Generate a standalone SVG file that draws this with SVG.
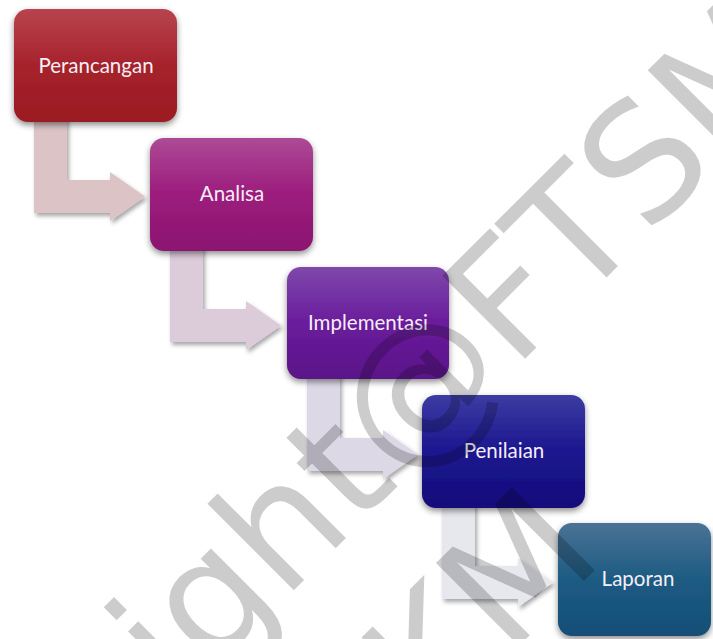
<svg xmlns="http://www.w3.org/2000/svg" xmlns:xlink="http://www.w3.org/1999/xlink" width="713" height="639" viewBox="0 0 713 639">
<defs>
<style>
.box{filter:url(#bsh);}
.lbl{font-family:Lato,"Open Sans","Liberation Sans",sans-serif;font-size:20.5px;fill:#f6eef6;text-anchor:middle;}
.arr{filter:url(#ash);}
.wm{font-family:"DejaVu Sans","Liberation Sans",sans-serif;font-size:161px;fill:#000;fill-opacity:0.2;}
</style>
<filter id="bsh" x="-20%" y="-20%" width="140%" height="150%"><feDropShadow dx="0" dy="3" stdDeviation="3" flood-color="#000" flood-opacity="0.45"/></filter>
<filter id="ash" x="-20%" y="-20%" width="140%" height="150%"><feDropShadow dx="2" dy="3" stdDeviation="2" flood-color="#000" flood-opacity="0.35"/></filter>
<linearGradient id="g1" x1="0" y1="0" x2="0" y2="1"><stop offset="0" stop-color="#b8444e"/><stop offset="0.5" stop-color="#a6222c"/><stop offset="1" stop-color="#9a1a22"/></linearGradient>
<linearGradient id="g2" x1="0" y1="0" x2="0" y2="1"><stop offset="0" stop-color="#ac4a95"/><stop offset="0.5" stop-color="#9c1c7d"/><stop offset="1" stop-color="#8b1570"/></linearGradient>
<linearGradient id="g3" x1="0" y1="0" x2="0" y2="1"><stop offset="0" stop-color="#7e48ab"/><stop offset="0.5" stop-color="#6a1c9c"/><stop offset="1" stop-color="#5a1388"/></linearGradient>
<linearGradient id="g4" x1="0" y1="0" x2="0" y2="1"><stop offset="0" stop-color="#3c3ca2"/><stop offset="0.5" stop-color="#1c1690"/><stop offset="1" stop-color="#140d7a"/></linearGradient>
<linearGradient id="g5" x1="0" y1="0" x2="0" y2="1"><stop offset="0" stop-color="#4a7294"/><stop offset="0.5" stop-color="#1d5b83"/><stop offset="1" stop-color="#134e76"/></linearGradient>
<path id="arrow" d="M20,105 V204 H96 V212 L131,187.5 L96,163 V171 H53 V105 Z"/>
</defs>
<rect width="713" height="639" fill="#ffffff"/>
<g id="connectors">
<use xlink:href="#arrow" class="arr" fill="#dcc3c6" transform="translate(14,9)"/>
<use xlink:href="#arrow" class="arr" fill="#dccbd9" transform="translate(150,138)"/>
<use xlink:href="#arrow" class="arr" fill="#dcd8e6" transform="translate(287,267)"/>
<use xlink:href="#arrow" class="arr" fill="#e6e8ee" transform="translate(422,395)"/>
</g>
<g id="perancangan"><rect class="box" x="14" y="9" width="163" height="113" rx="14" fill="url(#g1)"/><text class="lbl" x="96" y="73">Perancangan</text></g>
<g id="analisa"><rect class="box" x="150" y="138" width="163" height="113" rx="14" fill="url(#g2)"/><text class="lbl" x="232" y="201">Analisa</text></g>
<g id="implementasi"><rect class="box" x="287" y="267" width="162" height="112" rx="14" fill="url(#g3)"/><text class="lbl" x="368" y="330">Implementasi</text></g>
<g id="penilaian"><rect class="box" x="422" y="395" width="163" height="113" rx="14" fill="url(#g4)"/><text class="lbl" x="504" y="458">Penilaian</text></g>
<g id="laporan"><rect class="box" x="558" y="523" width="153" height="113" rx="14" fill="url(#g5)"/><text class="lbl" x="638" y="586">Laporan</text></g>
<g id="watermark">
<text class="wm" x="-156" y="1040" transform="rotate(-45 -156 1040)">Copyright@FTSM</text>
<text class="wm" x="478" y="687" text-anchor="middle" transform="rotate(-45 478 687)">UKM</text>
</g>
</svg>
